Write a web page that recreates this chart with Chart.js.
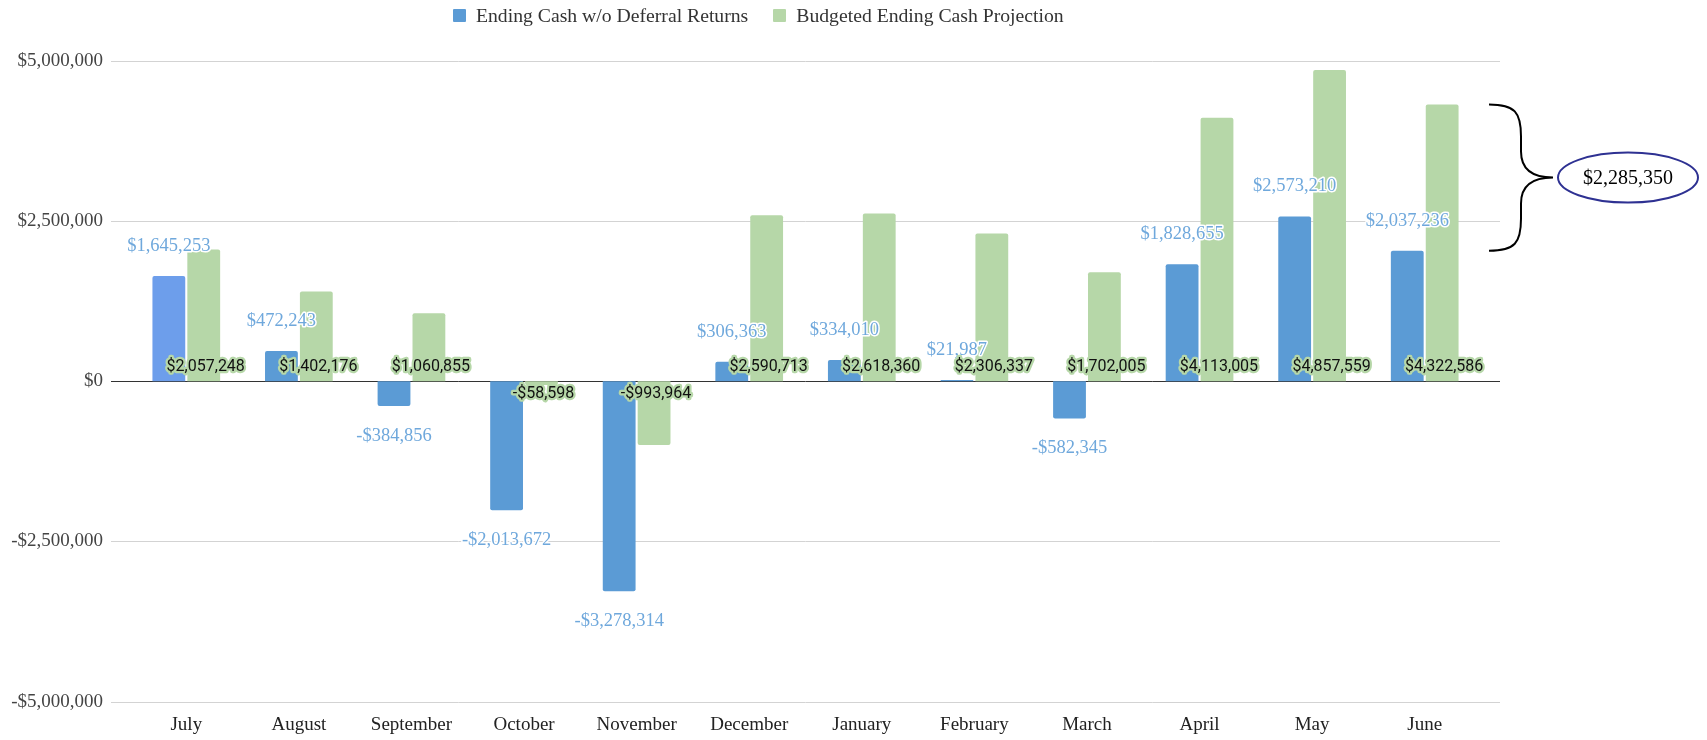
<!DOCTYPE html>
<html><head><meta charset="utf-8">
<script src="https://cdn.jsdelivr.net/npm/chart.js@4/dist/chart.umd.min.js"></script>
<style>
html,body{margin:0;padding:0;background:#fff;}
#wrap{position:relative;width:1707px;height:740px;}
#legend{position:absolute;top:4px;left:453px;display:flex;align-items:center;font-family:"Liberation Serif",serif;font-size:19.7px;color:#333;white-space:nowrap;}
.box{width:13px;height:13px;display:inline-block;margin-right:10px;border-radius:1px;}
.item{display:flex;align-items:center;margin-right:25px;}
</style>
</head><body>
<div id="wrap">
<canvas id="c" width="1707" height="740"></canvas>
<div id="legend"></div>
</div>
<script>
const months = ['July','August','September','October','November','December','January','February','March','April','May','June'];
const endingCash = [1645253, 472243, -384856, -2013672, -3278314, 306363, 334010, 21987, -582345, 1828655, 2573210, 2037236];
const budgeted = [2057248, 1402176, 1060855, -58598, -993964, 2590713, 2618360, 2306337, 1702005, 4113005, 4857559, 4322586];
const yTicks = [-5000000, -2500000, 0, 2500000, 5000000];
const seriesNames = ['Ending Cash w/o Deferral Returns', 'Budgeted Ending Cash Projection'];

const BLUE = '#5b9bd5', BLUE_FIRST = '#6d9eeb', GREEN = '#b6d7a8';
const SERIF = '"Liberation Serif", "Times New Roman", serif';

function money(v){ return (v < 0 ? '-$' : '$') + Math.abs(v).toLocaleString('en-US'); }

// HTML legend
const lg = document.getElementById('legend');
[[seriesNames[0], BLUE],[seriesNames[1], GREEN]].forEach(([n,c])=>{
  const it = document.createElement('div'); it.className='item';
  const b = document.createElement('span'); b.className='box'; b.style.background=c;
  const t = document.createElement('span'); t.textContent = n;
  it.appendChild(b); it.appendChild(t); lg.appendChild(it);
});

const gridPlugin = {
  id:'gridPlugin',
  beforeDatasetsDraw(chart){
    const {ctx, chartArea, scales} = chart;
    ctx.save();
    yTicks.forEach(v=>{
      const y = Math.round(scales.y.getPixelForValue(v)) + 0.5;
      ctx.beginPath();
      ctx.strokeStyle = v === 0 ? '#333333' : '#d3d3d3';
      ctx.lineWidth = 1;
      ctx.moveTo(chartArea.left - 19, y);
      ctx.lineTo(chartArea.right + 19, y);
      ctx.stroke();
    });
    ctx.restore();
  }
};

const labelPlugin = {
  id:'labelPlugin',
  afterDatasetsDraw(chart){
    const {ctx, scales} = chart;
    const zeroY = scales.y.getPixelForValue(0);
    ctx.save();
    ctx.textAlign = 'center';
    ctx.textBaseline = 'middle';
    ctx.lineJoin = 'round';
    // blue labels
    const m0 = chart.getDatasetMeta(0);
    ctx.font = '18.5px ' + SERIF;
    m0.data.forEach((el,i)=>{
      const v = endingCash[i];
      const y = v >= 0 ? el.y - 30 : el.y + 30;
      const t = money(v);
      ctx.strokeStyle = '#ffffff'; ctx.lineWidth = 3;
      ctx.strokeText(t, el.x, y);
      ctx.fillStyle = '#6fa8dc';
      ctx.fillText(t, el.x, y);
    });
    // green labels
    const m1 = chart.getDatasetMeta(1);
    ctx.font = '16px Roboto';
    m1.data.forEach((el,i)=>{
      const v = budgeted[i];
      const y = v >= 0 ? zeroY - 14 : zeroY + 13;
      const t = money(v);
      ctx.strokeStyle = GREEN; ctx.lineWidth = 4.5;
      ctx.strokeText(t, el.x + 2, y);
      ctx.fillStyle = '#111';
      ctx.fillText(t, el.x + 2, y);
    });
    ctx.restore();
  }
};

const bracePlugin = {
  id:'bracePlugin',
  afterDraw(chart){
    const {ctx, scales, chartArea} = chart;
    const last = months.length - 1;
    const top = scales.y.getPixelForValue(budgeted[last]);
    const bot = scales.y.getPixelForValue(endingCash[last]);
    const mid = (top + bot) / 2;
    const x0 = chartArea.right + 8, x1 = x0 + 32, x2 = x0 + 64;
    ctx.save();
    ctx.strokeStyle = '#000'; ctx.lineWidth = 2;
    ctx.beginPath();
    ctx.moveTo(x0, top);
    ctx.bezierCurveTo(x0 + 26, top, x1, top + 8, x1, top + 32);
    ctx.lineTo(x1, mid - 26);
    ctx.bezierCurveTo(x1, mid - 6, x1 + 14, mid, x2, mid);
    ctx.bezierCurveTo(x1 + 14, mid, x1, mid + 6, x1, mid + 26);
    ctx.lineTo(x1, bot - 32);
    ctx.bezierCurveTo(x1, bot - 8, x0 + 26, bot, x0, bot);
    ctx.stroke();
    // ellipse
    const cx = x2 + 75, rx = 70, ry = 25;
    ctx.beginPath();
    ctx.strokeStyle = '#2e3192';
    ctx.lineWidth = 2;
    ctx.ellipse(cx, mid, rx, ry, 0, 0, Math.PI * 2);
    ctx.stroke();
    ctx.fillStyle = '#000';
    ctx.font = '20px ' + SERIF;
    ctx.textAlign = 'center'; ctx.textBaseline = 'middle';
    ctx.fillText(money(budgeted[last] - endingCash[last]), cx, mid + 1);
    ctx.restore();
  }
};

new Chart(document.getElementById('c'), {
  type:'bar',
  data:{
    labels: months,
    datasets:[
      { label: seriesNames[0], data: endingCash,
        backgroundColor: c => c.dataIndex === 0 ? BLUE_FIRST : BLUE,
        borderRadius: 2, categoryPercentage: 0.62, barPercentage: 0.94 },
      { label: seriesNames[1], data: budgeted,
        backgroundColor: GREEN,
        borderRadius: 2, categoryPercentage: 0.62, barPercentage: 0.94 }
    ]
  },
  options:{
    responsive:false,
    animation:false,
    devicePixelRatio:1,
    layout:{ padding:{ top:61, right:226, left:0, bottom:0 } },
    plugins:{ legend:{display:false}, tooltip:{enabled:false} },
    scales:{
      x:{
        grid:{display:false, drawTicks:false},
        border:{display:false},
        ticks:{ font:{family:SERIF, size:19}, color:'#222', padding:12, maxRotation:0, autoSkip:false },
        afterFit(a){ a.height = 36; }
      },
      y:{
        min:-5000000, max:5000000,
        grid:{display:false, drawTicks:false},
        border:{display:false},
        afterBuildTicks(a){ a.ticks = yTicks.map(v=>({value:v})); },
        ticks:{ font:{family:SERIF, size:19}, color:'#444', padding:27, callback:v=>money(v) },
        afterFit(a){ a.width = 130; }
      }
    }
  },
  plugins:[gridPlugin, labelPlugin, bracePlugin]
});
</script>
</body></html>
